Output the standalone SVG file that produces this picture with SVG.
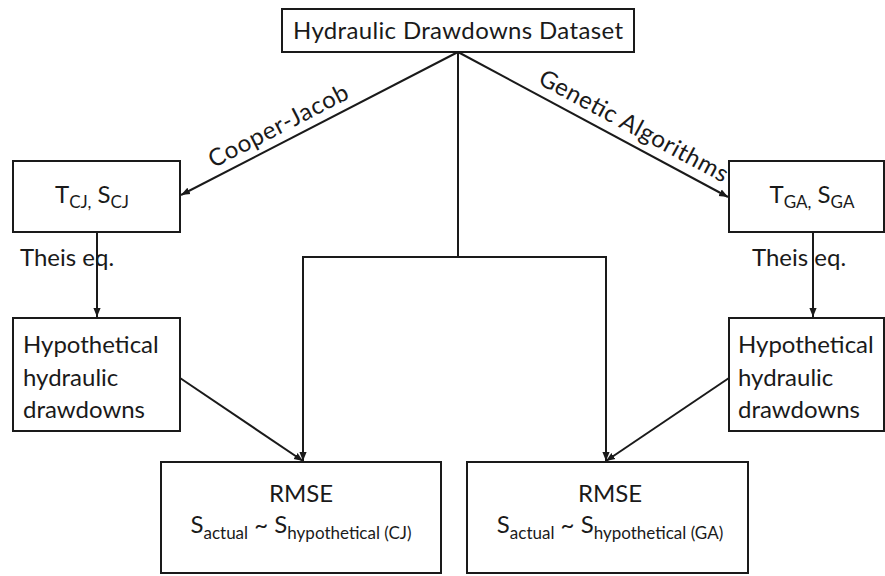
<svg xmlns="http://www.w3.org/2000/svg" width="885" height="576" viewBox="0 0 885 576">
<style>
.box{fill:#fff;stroke:#1a1a1a;stroke-width:2}
.t{font-family:Lato,"Open Sans","Liberation Sans",sans-serif;fill:#1a1a1a;font-size:24px}
.s{font-size:17px}
.c{stroke:#1a1a1a;stroke-width:2;fill:none}
</style>
<defs>
<marker id="ah" viewBox="0 0 10 10" refX="10" refY="5" markerWidth="9" markerHeight="9" markerUnits="userSpaceOnUse" orient="auto">
<path d="M0,1 L10,5 L0,9 Z" fill="#1a1a1a"/>
</marker>
</defs>
<rect width="885" height="576" fill="#fff"/>
<g id="connectors">
<line class="c" x1="458" y1="52" x2="181" y2="195" marker-end="url(#ah)"/>
<line class="c" x1="458" y1="52" x2="728" y2="197" marker-end="url(#ah)"/>
<polyline class="c" points="458,52 458,257"/>
<polyline class="c" points="458,257 303,257 303,461" marker-end="url(#ah)"/>
<polyline class="c" points="458,257 606,257 606,461" marker-end="url(#ah)"/>
<line class="c" x1="97" y1="232" x2="97" y2="317" marker-end="url(#ah)"/>
<line class="c" x1="813" y1="232" x2="813" y2="317" marker-end="url(#ah)"/>
<line class="c" x1="180" y1="378" x2="303" y2="461" marker-end="url(#ah)"/>
<line class="c" x1="729" y1="378" x2="606" y2="461" marker-end="url(#ah)"/>
<text class="t" font-size="22" text-anchor="middle" x="282" y="133" transform="rotate(-27.2 282 133)" textLength="154">Cooper-Jacob</text>
<text class="t" font-size="22" text-anchor="middle" x="630" y="133" transform="rotate(28.2 630 133)" textLength="211">Genetic Algorithms</text>
<text class="t" x="20" y="266">Theis eq.</text>
<text class="t" x="752" y="266">Theis eq.</text>
</g>
<g id="dataset">
<rect class="box" x="282" y="9" width="352" height="43"/>
<text class="t" x="458" y="39" font-size="22" text-anchor="middle" textLength="330">Hydraulic Drawdowns Dataset</text>
</g>
<g id="tcj">
<rect class="box" x="13" y="161" width="167" height="71"/>
<text class="t" x="92" y="203" text-anchor="middle" font-size="25">T<tspan class="s" dy="5">CJ,</tspan><tspan dy="-5"> S</tspan><tspan class="s" dy="5">CJ</tspan></text>
</g>
<g id="tga">
<rect class="box" x="729" y="161" width="155" height="71"/>
<text class="t" x="812" y="203" text-anchor="middle" font-size="25">T<tspan class="s" dy="5">GA,</tspan><tspan dy="-5"> S</tspan><tspan class="s" dy="5">GA</tspan></text>
</g>
<g id="hyp-cj">
<rect class="box" x="13" y="318" width="167" height="113"/>
<text class="t" x="23" y="353">Hypothetical</text>
<text class="t" x="23" y="386">hydraulic</text>
<text class="t" x="23" y="418">drawdowns</text>
</g>
<g id="hyp-ga">
<rect class="box" x="729" y="318" width="155" height="113"/>
<text class="t" x="738" y="353">Hypothetical</text>
<text class="t" x="738" y="386">hydraulic</text>
<text class="t" x="738" y="418">drawdowns</text>
</g>
<g id="rmse-cj">
<rect class="box" x="161" y="462" width="280" height="111"/>
<text class="t" x="301" y="502" text-anchor="middle">RMSE</text>
<text class="t" x="301" y="533" text-anchor="middle">S<tspan class="s" dy="6">actual</tspan><tspan dy="-6">  ~ S</tspan><tspan class="s" dy="6">hypothetical (CJ)</tspan></text>
</g>
<g id="rmse-ga">
<rect class="box" x="467" y="462" width="281" height="111"/>
<text class="t" x="610" y="502" text-anchor="middle">RMSE</text>
<text class="t" x="610" y="533" text-anchor="middle">S<tspan class="s" dy="6">actual</tspan><tspan dy="-6">  ~ S</tspan><tspan class="s" dy="6">hypothetical (GA)</tspan></text>
</g>
</svg>
